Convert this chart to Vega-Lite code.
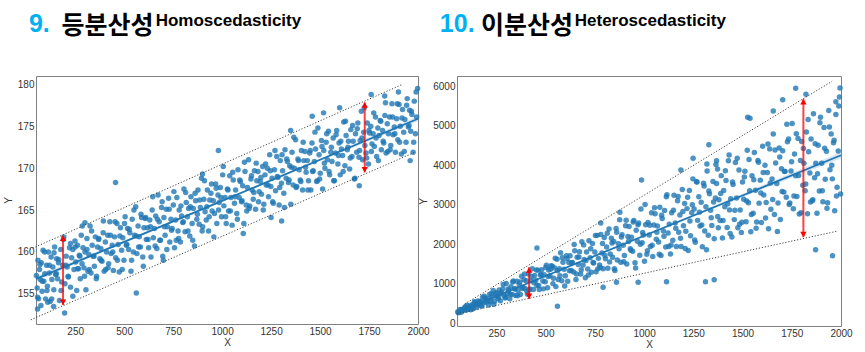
{
"$schema": "https://vega.github.io/schema/vega-lite/v6.json",
"background": "white",
"autosize": {"type": "pad"},
"padding": {"left": 2, "top": 11, "right": 5, "bottom": 5},
"spacing": 39,
"bounds": "flush",
"datasets": {
"homo_pts": [
{"x":52,"y":157.2},{"x":56,"y":155.7},{"x":60,"y":159.0},{"x":63,"y":154.4},{"x":68,"y":157.9},{"x":72,"y":156.7},{"x":77,"y":158.7},{"x":81,"y":155.3},{"x":86,"y":160.2},{"x":90,"y":156.5},{"x":95,"y":157.4},{"x":99,"y":154.4},{"x":104,"y":158.4},{"x":108,"y":155.9},{"x":113,"y":160.0},{"x":118,"y":157.5},{"x":122,"y":154.1},{"x":127,"y":159.4},{"x":131,"y":156.7},{"x":136,"y":158.2},{"x":141,"y":155.5},{"x":145,"y":160.6},{"x":150,"y":157.3},{"x":155,"y":159.2},{"x":160,"y":156.8},{"x":165,"y":158.7},{"x":170,"y":154.2},{"x":176,"y":160.3},{"x":181,"y":156.4},{"x":187,"y":158.4},{"x":192,"y":161.8},{"x":198,"y":156.2},{"x":204,"y":159.5},{"x":209,"y":158.2},{"x":215,"y":157.0},{"x":221,"y":160.5},{"x":226,"y":155.8},{"x":232,"y":159.3},{"x":238,"y":160.3},{"x":244,"y":157.9},
{"x":249,"y":161.3},{"x":253,"y":158.8},{"x":258,"y":155.4},{"x":262,"y":160.8},{"x":267,"y":158.0},{"x":271,"y":159.6},{"x":276,"y":156.8},{"x":281,"y":162.0},{"x":285,"y":158.6},{"x":290,"y":160.5},{"x":295,"y":158.1},{"x":300,"y":160.0},{"x":305,"y":155.5},{"x":310,"y":161.6},{"x":315,"y":157.7},{"x":320,"y":159.7},{"x":326,"y":163.1},{"x":331,"y":157.5},{"x":337,"y":160.8},{"x":342,"y":159.5},{"x":348,"y":158.3},{"x":353,"y":161.8},{"x":359,"y":157.1},{"x":364,"y":160.6},{"x":370,"y":161.6},{"x":376,"y":159.2},{"x":381,"y":160.4},{"x":387,"y":158.9},{"x":393,"y":162.3},{"x":398,"y":157.7},{"x":404,"y":161.2},{"x":410,"y":160.0},{"x":416,"y":162.0},{"x":421,"y":158.6},{"x":427,"y":163.6},{"x":433,"y":159.8},{"x":439,"y":160.8},{"x":445,"y":157.8},{"x":451,"y":161.8},{"x":457,"y":159.3},
{"x":463,"y":163.4},{"x":469,"y":160.9},{"x":475,"y":157.6},{"x":481,"y":162.9},{"x":487,"y":160.2},{"x":493,"y":161.7},{"x":499,"y":159.0},{"x":505,"y":164.2},{"x":511,"y":160.8},{"x":517,"y":162.8},{"x":523,"y":160.3},{"x":529,"y":162.3},{"x":535,"y":157.7},{"x":541,"y":163.9},{"x":547,"y":160.0},{"x":553,"y":162.0},{"x":559,"y":165.4},{"x":565,"y":159.8},{"x":571,"y":163.1},{"x":577,"y":161.8},{"x":583,"y":160.6},{"x":589,"y":164.1},{"x":595,"y":159.4},{"x":601,"y":162.9},{"x":607,"y":164.0},{"x":613,"y":161.5},{"x":619,"y":162.9},{"x":625,"y":160.5},{"x":631,"y":163.8},{"x":637,"y":159.4},{"x":643,"y":165.0},{"x":649,"y":161.7},{"x":655,"y":162.8},{"x":661,"y":164.3},{"x":667,"y":160.4},{"x":673,"y":166.8},{"x":679,"y":163.6},{"x":685,"y":161.4},{"x":691,"y":165.3},{"x":697,"y":159.5},
{"x":703,"y":164.1},{"x":709,"y":162.0},{"x":715,"y":165.1},{"x":721,"y":163.0},{"x":727,"y":166.4},{"x":733,"y":161.2},{"x":739,"y":163.9},{"x":745,"y":162.8},{"x":751,"y":165.6},{"x":757,"y":160.5},{"x":763,"y":163.8},{"x":769,"y":166.5},{"x":775,"y":162.5},{"x":781,"y":165.0},{"x":787,"y":161.2},{"x":793,"y":164.3},{"x":799,"y":163.5},{"x":805,"y":167.5},{"x":811,"y":162.4},{"x":817,"y":165.9},{"x":823,"y":164.2},{"x":829,"y":165.2},{"x":835,"y":161.9},{"x":841,"y":166.6},{"x":847,"y":163.4},{"x":853,"y":165.2},{"x":859,"y":160.7},{"x":865,"y":166.1},{"x":871,"y":163.9},{"x":877,"y":167.4},{"x":883,"y":163.3},{"x":889,"y":165.3},{"x":895,"y":168.8},{"x":901,"y":163.0},{"x":907,"y":166.3},{"x":913,"y":164.8},{"x":919,"y":163.8},{"x":925,"y":167.4},{"x":931,"y":162.5},{"x":937,"y":166.2},
{"x":943,"y":167.0},{"x":949,"y":164.9},{"x":955,"y":166.1},{"x":961,"y":164.6},{"x":967,"y":168.1},{"x":973,"y":163.4},{"x":979,"y":166.8},{"x":985,"y":165.9},{"x":991,"y":167.7},{"x":997,"y":164.2},{"x":1003,"y":169.2},{"x":1009,"y":165.5},{"x":1015,"y":166.5},{"x":1021,"y":163.4},{"x":1027,"y":167.5},{"x":1033,"y":164.9},{"x":1039,"y":169.1},{"x":1045,"y":166.5},{"x":1051,"y":163.2},{"x":1057,"y":168.6},{"x":1063,"y":165.8},{"x":1069,"y":167.4},{"x":1075,"y":164.6},{"x":1081,"y":169.8},{"x":1087,"y":166.5},{"x":1093,"y":168.4},{"x":1099,"y":166.0},{"x":1105,"y":167.9},{"x":1111,"y":163.4},{"x":1117,"y":169.6},{"x":1123,"y":165.6},{"x":1129,"y":167.7},{"x":1135,"y":171.0},{"x":1141,"y":165.5},{"x":1147,"y":168.7},{"x":1153,"y":167.4},{"x":1159,"y":166.3},{"x":1165,"y":169.7},{"x":1171,"y":165.1},{"x":1177,"y":168.5},
{"x":1183,"y":169.6},{"x":1189,"y":167.2},{"x":1195,"y":168.4},{"x":1201,"y":166.9},{"x":1207,"y":170.2},{"x":1213,"y":165.7},{"x":1219,"y":169.2},{"x":1225,"y":168.0},{"x":1231,"y":170.0},{"x":1237,"y":166.6},{"x":1243,"y":171.6},{"x":1249,"y":167.8},{"x":1255,"y":168.8},{"x":1261,"y":165.8},{"x":1267,"y":169.8},{"x":1273,"y":167.3},{"x":1279,"y":171.4},{"x":1285,"y":168.9},{"x":1291,"y":165.6},{"x":1297,"y":170.9},{"x":1303,"y":168.2},{"x":1309,"y":169.7},{"x":1315,"y":167.0},{"x":1321,"y":172.2},{"x":1327,"y":168.8},{"x":1333,"y":170.8},{"x":1339,"y":168.3},{"x":1345,"y":170.3},{"x":1351,"y":165.7},{"x":1357,"y":171.9},{"x":1363,"y":168.0},{"x":1369,"y":170.0},{"x":1375,"y":173.4},{"x":1381,"y":167.8},{"x":1387,"y":171.1},{"x":1393,"y":169.8},{"x":1399,"y":168.6},{"x":1405,"y":172.1},{"x":1411,"y":167.4},{"x":1417,"y":170.9},
{"x":1423,"y":172.0},{"x":1429,"y":169.5},{"x":1435,"y":170.9},{"x":1441,"y":168.5},{"x":1447,"y":171.8},{"x":1453,"y":167.4},{"x":1459,"y":173.0},{"x":1465,"y":169.7},{"x":1471,"y":170.8},{"x":1477,"y":172.3},{"x":1483,"y":168.4},{"x":1489,"y":174.8},{"x":1495,"y":171.6},{"x":1501,"y":169.4},{"x":1507,"y":173.3},{"x":1513,"y":167.5},{"x":1519,"y":172.1},{"x":1525,"y":170.0},{"x":1531,"y":173.1},{"x":1537,"y":171.0},{"x":1543,"y":174.4},{"x":1549,"y":169.2},{"x":1555,"y":171.9},{"x":1561,"y":170.8},{"x":1567,"y":173.6},{"x":1573,"y":168.5},{"x":1579,"y":171.8},{"x":1585,"y":174.5},{"x":1591,"y":170.5},{"x":1597,"y":173.0},{"x":1603,"y":169.2},{"x":1609,"y":172.3},{"x":1615,"y":171.5},{"x":1621,"y":175.5},{"x":1627,"y":170.3},{"x":1633,"y":173.9},{"x":1639,"y":172.2},{"x":1645,"y":173.2},{"x":1651,"y":169.9},{"x":1657,"y":174.6},
{"x":1663,"y":171.4},{"x":1669,"y":173.2},{"x":1675,"y":168.7},{"x":1681,"y":174.1},{"x":1687,"y":171.9},{"x":1693,"y":175.4},{"x":1699,"y":171.3},{"x":1705,"y":173.3},{"x":1711,"y":176.8},{"x":1717,"y":171.0},{"x":1723,"y":174.3},{"x":1729,"y":172.7},{"x":1735,"y":171.8},{"x":1741,"y":175.4},{"x":1747,"y":170.5},{"x":1753,"y":174.2},{"x":1759,"y":175.0},{"x":1765,"y":172.9},{"x":1771,"y":174.1},{"x":1777,"y":172.6},{"x":1783,"y":176.1},{"x":1789,"y":171.4},{"x":1795,"y":174.8},{"x":1801,"y":173.9},{"x":1807,"y":175.7},{"x":1813,"y":172.2},{"x":1819,"y":174.5},{"x":1825,"y":173.0},{"x":1831,"y":176.3},{"x":1837,"y":171.8},{"x":1843,"y":175.3},{"x":1849,"y":174.1},{"x":1855,"y":176.1},{"x":1861,"y":172.7},{"x":1867,"y":177.7},{"x":1873,"y":174.0},{"x":1879,"y":174.9},{"x":1885,"y":171.9},{"x":1891,"y":175.9},{"x":1897,"y":173.4},
{"x":1903,"y":177.6},{"x":1909,"y":175.0},{"x":1915,"y":171.7},{"x":1921,"y":177.0},{"x":1927,"y":174.3},{"x":1933,"y":175.8},{"x":1939,"y":173.1},{"x":1945,"y":178.3},{"x":1951,"y":174.9},{"x":1957,"y":176.9},{"x":1963,"y":174.4},{"x":1969,"y":176.4},{"x":1975,"y":171.9},{"x":1981,"y":178.0},{"x":1987,"y":174.1},{"x":1993,"y":176.1},{"x":1998,"y":179.5},
{"x":456,"y":168.3},{"x":562,"y":155.1},{"x":196,"y":152.7},{"x":981,"y":172.1},{"x":1108,"y":162.2},{"x":1518,"y":176.6},{"x":1761,"y":178.8},{"x":58,"y":153.2},{"x":75,"y":153.6},{"x":110,"y":154.0},{"x":140,"y":153.5},{"x":1460,"y":176.2},{"x":1600,"y":177.2},{"x":1900,"y":179.1},{"x":1960,"y":170.9},{"x":1700,"y":167.9},{"x":700,"y":159.0},{"x":300,"y":163.5},{"x":1250,"y":164.1},{"x":1830,"y":178.6},{"x":1350,"y":174.5},{"x":900,"y":169.3},{"x":1304,"y":163.7},
{"x":58,"y":154.6},{"x":70,"y":158.5},{"x":82,"y":156.5},{"x":94,"y":160.0},{"x":106,"y":155.4},{"x":118,"y":158.4},{"x":130,"y":154.4},{"x":142,"y":159.9},{"x":154,"y":157.4},{"x":166,"y":159.1},{"x":178,"y":155.4},{"x":190,"y":161.5},{"x":202,"y":158.4},{"x":214,"y":157.1},{"x":226,"y":161.0},{"x":238,"y":154.7},{"x":250,"y":160.6},{"x":262,"y":158.0},{"x":274,"y":159.5},{"x":286,"y":163.1},{"x":298,"y":157.1},{"x":310,"y":160.3},{"x":322,"y":157.9},{"x":334,"y":162.5},{"x":346,"y":159.5},{"x":358,"y":156.8},{"x":370,"y":161.5},{"x":382,"y":159.0},{"x":394,"y":163.7},{"x":406,"y":157.9},
{"x":418,"y":158.1},{"x":430,"y":162.0},{"x":442,"y":160.0},{"x":454,"y":163.6},{"x":466,"y":159.0},{"x":478,"y":161.9},{"x":490,"y":157.9},{"x":502,"y":163.4},{"x":514,"y":160.9},{"x":526,"y":162.7},{"x":538,"y":159.0},{"x":550,"y":165.0},{"x":562,"y":161.9},{"x":574,"y":160.6},{"x":586,"y":164.5},{"x":598,"y":158.3},{"x":610,"y":164.1},{"x":622,"y":161.5},{"x":634,"y":163.0},{"x":646,"y":166.6},{"x":658,"y":160.7},{"x":670,"y":163.9},{"x":682,"y":161.4},{"x":694,"y":166.0},{"x":706,"y":163.0},{"x":718,"y":160.3},{"x":730,"y":165.1},{"x":742,"y":162.6},{"x":754,"y":167.2},{"x":766,"y":161.4},
{"x":778,"y":161.6},{"x":790,"y":165.5},{"x":802,"y":163.6},{"x":814,"y":167.1},{"x":826,"y":162.5},{"x":838,"y":165.4},{"x":850,"y":161.4},{"x":862,"y":167.0},{"x":874,"y":164.5},{"x":886,"y":166.2},{"x":898,"y":162.5},{"x":910,"y":168.5},{"x":922,"y":165.4},{"x":934,"y":164.2},{"x":946,"y":168.1},{"x":958,"y":161.8},{"x":970,"y":167.6},{"x":982,"y":165.0},{"x":994,"y":166.5},{"x":1006,"y":170.2},{"x":1018,"y":164.2},{"x":1030,"y":167.4},{"x":1042,"y":164.9},{"x":1054,"y":169.5},{"x":1066,"y":166.6},{"x":1078,"y":163.9},{"x":1090,"y":168.6},{"x":1102,"y":166.1},{"x":1114,"y":170.7},{"x":1126,"y":164.9},
{"x":1138,"y":165.2},{"x":1150,"y":169.1},{"x":1162,"y":167.1},{"x":1174,"y":170.6},{"x":1186,"y":166.0},{"x":1198,"y":168.9},{"x":1210,"y":165.0},{"x":1222,"y":170.5},{"x":1234,"y":168.0},{"x":1246,"y":169.7},{"x":1258,"y":166.0},{"x":1270,"y":172.1},{"x":1282,"y":169.0},{"x":1294,"y":167.7},{"x":1306,"y":171.6},{"x":1318,"y":165.3},{"x":1330,"y":171.1},{"x":1342,"y":168.6},{"x":1354,"y":170.1},{"x":1366,"y":173.7},{"x":1378,"y":167.7},{"x":1390,"y":170.9},{"x":1402,"y":168.4},{"x":1414,"y":173.1},{"x":1426,"y":170.1},{"x":1438,"y":167.4},{"x":1450,"y":172.1},{"x":1462,"y":169.6},{"x":1474,"y":174.3},{"x":1486,"y":168.5},
{"x":1498,"y":168.7},{"x":1510,"y":172.6},{"x":1522,"y":170.6},{"x":1534,"y":174.1},{"x":1546,"y":169.6},{"x":1558,"y":172.5},{"x":1570,"y":168.5},{"x":1582,"y":174.0},{"x":1594,"y":171.5},{"x":1606,"y":173.2},{"x":1618,"y":169.6},{"x":1630,"y":175.6},{"x":1642,"y":172.5},{"x":1654,"y":171.2},{"x":1666,"y":175.1},{"x":1678,"y":168.8},{"x":1690,"y":174.7},{"x":1702,"y":172.1},{"x":1714,"y":173.6},{"x":1726,"y":177.2},{"x":1738,"y":171.2},{"x":1750,"y":174.5},{"x":1762,"y":172.0},{"x":1774,"y":176.6},{"x":1786,"y":173.6},{"x":1798,"y":170.9},{"x":1810,"y":175.6},{"x":1822,"y":173.2},{"x":1834,"y":177.8},{"x":1846,"y":172.0},
{"x":1858,"y":172.2},{"x":1870,"y":176.1},{"x":1882,"y":174.1},{"x":1894,"y":177.7},{"x":1906,"y":173.1},{"x":1918,"y":176.0},{"x":1930,"y":172.0},{"x":1942,"y":177.5},{"x":1954,"y":175.1},{"x":1966,"y":176.8},{"x":1978,"y":173.1},{"x":1990,"y":179.1}
],
"hetero_pts": [
{"x":54,"y":287},{"x":60,"y":276},{"x":66,"y":340},{"x":72,"y":273},{"x":78,"y":348},{"x":84,"y":336},{"x":90,"y":390},{"x":96,"y":323},{"x":102,"y":453},{"x":108,"y":374},{"x":114,"y":407},{"x":120,"y":338},{"x":126,"y":461},{"x":132,"y":393},{"x":138,"y":538},{"x":144,"y":465},{"x":150,"y":399},{"x":156,"y":561},{"x":162,"y":464},{"x":168,"y":536},{"x":174,"y":430},{"x":180,"y":655},{"x":186,"y":526},{"x":192,"y":626},{"x":198,"y":523},{"x":204,"y":628},{"x":210,"y":457},{"x":216,"y":730},{"x":222,"y":537},{"x":228,"y":652},{"x":234,"y":824},{"x":240,"y":543},{"x":246,"y":744},{"x":252,"y":678},{"x":258,"y":612},{"x":264,"y":839},{"x":270,"y":563},{"x":276,"y":778},{"x":282,"y":865},{"x":288,"y":701},
{"x":294,"y":636},{"x":300,"y":999},{"x":306,"y":746},{"x":312,"y":817},{"x":318,"y":613},{"x":324,"y":916},{"x":330,"y":725},{"x":336,"y":1065},{"x":342,"y":869},{"x":348,"y":700},{"x":354,"y":1056},{"x":360,"y":823},{"x":366,"y":965},{"x":372,"y":725},{"x":378,"y":1188},{"x":384,"y":904},{"x":390,"y":1095},{"x":396,"y":876},{"x":402,"y":1071},{"x":408,"y":726},{"x":414,"y":1243},{"x":420,"y":864},{"x":426,"y":1070},{"x":432,"y":1376},{"x":438,"y":850},{"x":444,"y":1206},{"x":450,"y":1076},{"x":456,"y":951},{"x":462,"y":1340},{"x":468,"y":850},{"x":474,"y":1214},{"x":480,"y":1352},{"x":486,"y":1065},{"x":492,"y":1224},{"x":498,"y":1043},{"x":504,"y":1461},{"x":510,"y":895},{"x":516,"y":1342},{"x":522,"y":1199},{"x":528,"y":1454},
{"x":534,"y":1437},{"x":540,"y":1132},{"x":546,"y":1394},{"x":552,"y":922},{"x":558,"y":1616},{"x":564,"y":1102},{"x":570,"y":1374},{"x":576,"y":1778},{"x":582,"y":1073},{"x":588,"y":1541},{"x":594,"y":1365},{"x":600,"y":1197},{"x":606,"y":1704},{"x":612,"y":1058},{"x":618,"y":1531},{"x":624,"y":1706},{"x":630,"y":1330},{"x":636,"y":1532},{"x":642,"y":1295},{"x":648,"y":1830},{"x":654,"y":1100},{"x":660,"y":1669},{"x":666,"y":1483},{"x":672,"y":1804},{"x":678,"y":1242},{"x":684,"y":2059},{"x":690,"y":1468},{"x":696,"y":1612},{"x":702,"y":1147},{"x":708,"y":1799},{"x":714,"y":1371},{"x":720,"y":2086},{"x":726,"y":1652},{"x":732,"y":1284},{"x":738,"y":2016},{"x":744,"y":1518},{"x":750,"y":1799},{"x":756,"y":1297},{"x":762,"y":2221},{"x":768,"y":1638},
{"x":774,"y":1471},{"x":780,"y":2246},{"x":786,"y":1774},{"x":792,"y":1375},{"x":798,"y":2166},{"x":804,"y":1626},{"x":810,"y":1929},{"x":816,"y":1387},{"x":822,"y":2382},{"x":828,"y":1752},{"x":834,"y":2148},{"x":840,"y":1666},{"x":846,"y":2066},{"x":852,"y":1330},{"x":858,"y":2393},{"x":864,"y":1597},{"x":870,"y":2007},{"x":876,"y":2615},{"x":882,"y":1538},{"x":888,"y":2240},{"x":894,"y":1968},{"x":900,"y":1710},{"x":906,"y":2463},{"x":912,"y":1493},{"x":918,"y":2191},{"x":924,"y":2444},{"x":930,"y":1882},{"x":936,"y":2174},{"x":942,"y":1820},{"x":948,"y":2598},{"x":954,"y":1526},{"x":960,"y":2350},{"x":966,"y":2074},{"x":972,"y":2533},{"x":978,"y":1716},{"x":984,"y":2887},{"x":990,"y":2032},{"x":996,"y":2233},{"x":1002,"y":1564},{"x":1008,"y":2489},
{"x":1014,"y":1743},{"x":1020,"y":2548},{"x":1026,"y":2233},{"x":1032,"y":1936},{"x":1038,"y":2797},{"x":1044,"y":1685},{"x":1050,"y":2481},{"x":1056,"y":2769},{"x":1062,"y":2125},{"x":1068,"y":2457},{"x":1074,"y":2051},{"x":1080,"y":2936},{"x":1086,"y":1713},{"x":1092,"y":2650},{"x":1098,"y":2334},{"x":1104,"y":2854},{"x":1110,"y":1925},{"x":1116,"y":3251},{"x":1122,"y":2280},{"x":1128,"y":2506},{"x":1134,"y":1747},{"x":1140,"y":2793},{"x":1146,"y":2096},{"x":1152,"y":3235},{"x":1158,"y":2533},{"x":1164,"y":1940},{"x":1170,"y":3096},{"x":1176,"y":2300},{"x":1182,"y":2736},{"x":1188,"y":1941},{"x":1194,"y":3383},{"x":1200,"y":2463},{"x":1206,"y":3029},{"x":1212,"y":2328},{"x":1218,"y":2899},{"x":1224,"y":1836},{"x":1230,"y":3357},{"x":1236,"y":2210},{"x":1242,"y":2792},{"x":1248,"y":3653},
{"x":1254,"y":2892},{"x":1260,"y":2048},{"x":1266,"y":3577},{"x":1272,"y":2601},{"x":1278,"y":3200},{"x":1284,"y":2457},{"x":1290,"y":3061},{"x":1296,"y":1934},{"x":1302,"y":3543},{"x":1308,"y":2329},{"x":1314,"y":2944},{"x":1320,"y":3854},{"x":1326,"y":2226},{"x":1332,"y":3275},{"x":1338,"y":2860},{"x":1344,"y":2469},{"x":1350,"y":3587},{"x":1356,"y":2137},{"x":1362,"y":3167},{"x":1368,"y":3536},{"x":1374,"y":2699},{"x":1380,"y":3124},{"x":1386,"y":2597},{"x":1392,"y":3735},{"x":1398,"y":2156},{"x":1404,"y":3358},{"x":1410,"y":2949},{"x":1416,"y":3612},{"x":1422,"y":2418},{"x":1428,"y":4112},{"x":1434,"y":2867},{"x":1440,"y":3152},{"x":1446,"y":2181},{"x":1452,"y":3511},{"x":1458,"y":2620},{"x":1464,"y":4065},{"x":1470,"y":3170},{"x":1476,"y":2415},{"x":1482,"y":3876},{"x":1488,"y":2864},
{"x":1494,"y":2292},{"x":1500,"y":3576},{"x":1506,"y":3138},{"x":1512,"y":3845},{"x":1518,"y":2569},{"x":1524,"y":4377},{"x":1530,"y":3047},{"x":1536,"y":3351},{"x":1542,"y":2314},{"x":1548,"y":3731},{"x":1554,"y":2782},{"x":1560,"y":4321},{"x":1566,"y":3366},{"x":1572,"y":2560},{"x":1578,"y":4116},{"x":1584,"y":3038},{"x":1590,"y":3621},{"x":1596,"y":2549},{"x":1602,"y":4480},{"x":1608,"y":3242},{"x":1614,"y":3996},{"x":1620,"y":3055},{"x":1626,"y":3813},{"x":1632,"y":2391},{"x":1638,"y":4413},{"x":1644,"y":2884},{"x":1650,"y":3653},{"x":1656,"y":4791},{"x":1662,"y":2747},{"x":1668,"y":4057},{"x":1674,"y":3536},{"x":1680,"y":3044},{"x":1686,"y":4437},{"x":1692,"y":2624},{"x":1698,"y":3907},{"x":1704,"y":4363},{"x":1710,"y":3317},{"x":1716,"y":3843},{"x":1722,"y":3185},{"x":1728,"y":4595},
{"x":1734,"y":4662},{"x":1740,"y":3042},{"x":1746,"y":3855},{"x":1752,"y":5059},{"x":1758,"y":2896},{"x":1764,"y":4281},{"x":1770,"y":3729},{"x":1776,"y":3208},{"x":1782,"y":4679},{"x":1788,"y":2764},{"x":1794,"y":4118},{"x":1800,"y":4599},{"x":1806,"y":3494},{"x":1812,"y":4049},{"x":1818,"y":3353},{"x":1824,"y":4840},{"x":1830,"y":2770},{"x":1836,"y":4339},{"x":1842,"y":3800},{"x":1848,"y":4662},{"x":1854,"y":3100},{"x":1860,"y":5305},{"x":1866,"y":3679},{"x":1872,"y":4046},{"x":1878,"y":2781},{"x":1884,"y":4504},{"x":1890,"y":3346},{"x":1896,"y":5214},{"x":1902,"y":4051},{"x":1908,"y":3071},{"x":1914,"y":4956},{"x":1920,"y":3646},{"x":1926,"y":4350},{"x":1932,"y":3050},{"x":1938,"y":5384},{"x":1944,"y":3884},{"x":1950,"y":4793},{"x":1956,"y":3653},{"x":1962,"y":4566},{"x":1968,"y":2847},{"x":1974,"y":5284},{"x":1980,"y":3438},{"x":1986,"y":4361},{"x":1992,"y":5729},{"x":1998,"y":3268},
{"x":456,"y":1901},{"x":560,"y":423},{"x":987,"y":3625},{"x":1329,"y":4520},{"x":1526,"y":5214},{"x":1538,"y":5190},{"x":1770,"y":5949},{"x":1704,"y":5660},{"x":1822,"y":5797},{"x":1995,"y":5957},{"x":1974,"y":5610},{"x":1957,"y":1706},{"x":1871,"y":1858},{"x":1356,"y":1098},{"x":1312,"y":1047},{"x":1114,"y":1047},{"x":970,"y":1030},{"x":1656,"y":5374},{"x":1249,"y":4175},{"x":1432,"y":4259},{"x":1368,"y":4114},{"x":877,"y":2806},{"x":780,"y":2535},{"x":792,"y":905},{"x":860,"y":1032},{"x":1187,"y":3878},{"x":1319,"y":4030},{"x":1373,"y":3904},
{"x":57,"y":262},{"x":69,"y":332},{"x":81,"y":327},{"x":93,"y":412},{"x":105,"y":346},{"x":117,"y":431},{"x":129,"y":354},{"x":141,"y":519},{"x":153,"y":471},{"x":165,"y":546},{"x":177,"y":444},{"x":189,"y":678},{"x":201,"y":585},{"x":213,"y":552},{"x":225,"y":740},{"x":237,"y":474},{"x":249,"y":766},{"x":261,"y":656},{"x":273,"y":755},{"x":285,"y":975},{"x":297,"y":655},{"x":309,"y":863},{"x":321,"y":726},{"x":333,"y":1040},{"x":345,"y":861},{"x":357,"y":692},{"x":369,"y":1038},{"x":381,"y":872},{"x":393,"y":1240},{"x":405,"y":807},
{"x":417,"y":834},{"x":429,"y":1175},{"x":441,"y":1018},{"x":453,"y":1344},{"x":465,"y":948},{"x":477,"y":1230},{"x":489,"y":865},{"x":501,"y":1408},{"x":513,"y":1176},{"x":525,"y":1363},{"x":537,"y":998},{"x":549,"y":1642},{"x":561,"y":1327},{"x":573,"y":1197},{"x":585,"y":1651},{"x":597,"y":935},{"x":609,"y":1627},{"x":621,"y":1326},{"x":633,"y":1526},{"x":645,"y":1990},{"x":657,"y":1242},{"x":669,"y":1670},{"x":681,"y":1349},{"x":693,"y":1980},{"x":705,"y":1581},{"x":717,"y":1218},{"x":729,"y":1884},{"x":741,"y":1534},{"x":753,"y":2219},{"x":765,"y":1372},
{"x":777,"y":1406},{"x":789,"y":2017},{"x":801,"y":1709},{"x":813,"y":2277},{"x":825,"y":1549},{"x":837,"y":2029},{"x":849,"y":1377},{"x":861,"y":2298},{"x":873,"y":1882},{"x":885,"y":2180},{"x":897,"y":1552},{"x":909,"y":2607},{"x":921,"y":2068},{"x":933,"y":1841},{"x":945,"y":2562},{"x":957,"y":1396},{"x":969,"y":2487},{"x":981,"y":1996},{"x":993,"y":2296},{"x":1005,"y":3005},{"x":1017,"y":1829},{"x":1029,"y":2476},{"x":1041,"y":1972},{"x":1053,"y":2919},{"x":1065,"y":2301},{"x":1077,"y":1743},{"x":1089,"y":2730},{"x":1101,"y":2197},{"x":1113,"y":3198},{"x":1125,"y":1937},
{"x":1137,"y":1979},{"x":1149,"y":2860},{"x":1161,"y":2400},{"x":1173,"y":3209},{"x":1185,"y":2150},{"x":1197,"y":2828},{"x":1209,"y":1888},{"x":1221,"y":3187},{"x":1233,"y":2588},{"x":1245,"y":2997},{"x":1257,"y":2107},{"x":1269,"y":3572},{"x":1281,"y":2810},{"x":1293,"y":2485},{"x":1305,"y":3473},{"x":1317,"y":1857},{"x":1329,"y":3347},{"x":1341,"y":2665},{"x":1353,"y":3066},{"x":1365,"y":4020},{"x":1377,"y":2416},{"x":1389,"y":3282},{"x":1401,"y":2595},{"x":1413,"y":3859},{"x":1425,"y":3021},{"x":1437,"y":2269},{"x":1449,"y":3576},{"x":1461,"y":2859},{"x":1473,"y":4178},{"x":1485,"y":2502},
{"x":1497,"y":2551},{"x":1509,"y":3702},{"x":1521,"y":3091},{"x":1533,"y":4141},{"x":1545,"y":2751},{"x":1557,"y":3628},{"x":1569,"y":2399},{"x":1581,"y":4076},{"x":1593,"y":3293},{"x":1605,"y":3814},{"x":1617,"y":2661},{"x":1629,"y":4537},{"x":1641,"y":3551},{"x":1653,"y":3130},{"x":1665,"y":4383},{"x":1677,"y":2318},{"x":1689,"y":4208},{"x":1701,"y":3335},{"x":1713,"y":3837},{"x":1725,"y":5036},{"x":1737,"y":3002},{"x":1749,"y":4089},{"x":1761,"y":3218},{"x":1773,"y":4799},{"x":1785,"y":3741},{"x":1797,"y":2795},{"x":1809,"y":4422},{"x":1821,"y":3522},{"x":1833,"y":5157},{"x":1845,"y":3068},
{"x":1857,"y":3124},{"x":1869,"y":4544},{"x":1881,"y":3783},{"x":1893,"y":5074},{"x":1905,"y":3352},{"x":1917,"y":4427},{"x":1929,"y":2910},{"x":1941,"y":4965},{"x":1953,"y":3999},{"x":1965,"y":4632},{"x":1977,"y":3216},{"x":1989,"y":5502}
],
"homo_fit": [{"x":50,"y":156.79,"lo":156.49,"hi":157.09},{"x":500,"y":161.2,"lo":161.05,"hi":161.35},{"x":1000,"y":166.1,"lo":166.0,"hi":166.2},{"x":1500,"y":171.0,"lo":170.85,"hi":171.15},{"x":2000,"y":175.9,"lo":175.6,"hi":176.2}],
"hetero_fit": [{"x":50,"y":273,"lo":253,"hi":293},{"x":500,"y":1191,"lo":1176,"hi":1206},{"x":1000,"y":2211,"lo":2186,"hi":2236},{"x":1500,"y":3231,"lo":3186,"hi":3276},{"x":2000,"y":4251,"lo":4171,"hi":4331}],
"homo_bounds": [{"b":"upper","x":19,"y":160.3},{"b":"upper","x":1920,"y":180.0},{"b":"lower","x":23,"y":151.9},{"b":"lower","x":1984,"y":171.9}],
"hetero_bounds": [{"b":"upper","x":89,"y":482},{"b":"upper","x":1955,"y":6127},{"b":"lower","x":50,"y":228},{"b":"lower","x":1978,"y":2324}],
"homo_arrows": [{"x":188,"y":153.67,"y2":161.94},{"x":1728,"y":169.5,"y2":177.86}],
"hetero_arrows": [{"x":416,"y":609,"y2":1412},{"x":1809,"y":2173,"y2":5677}],
"homo_heads": [{"x":188,"y":161.62,"dir":"up"},{"x":188,"y":153.99,"dir":"down"},{"x":1728,"y":177.54,"dir":"up"},{"x":1728,"y":169.82,"dir":"down"}],
"hetero_heads": [{"x":416,"y":1344,"dir":"up"},{"x":416,"y":677,"dir":"down"},{"x":1809,"y":5609,"dir":"up"},{"x":1809,"y":2241,"dir":"down"}]
},
"hconcat": [
{
"width": 382, "height": 248,
"layer": [
{"data": {"name": "homo_pts"}, "mark": {"type": "circle", "size": 30, "color": "#1f77b4", "opacity": 0.8},
 "encoding": {
 "x": {"field": "x", "type": "quantitative", "title": "X", "scale": {"domain": [50, 2000], "nice": false, "zero": false}, "axis": {"values": [250, 500, 750, 1000, 1250, 1500, 1750, 2000], "format": "d"}},
 "y": {"field": "y", "type": "quantitative", "title": "Y", "scale": {"domain": [151.4, 181], "nice": false, "zero": false}, "axis": {"values": [155, 160, 165, 170, 175, 180], "format": "d"}}}},
{"data": {"name": "homo_fit"}, "mark": {"type": "area", "color": "#1f77b4", "opacity": 0.18},
 "encoding": {"x": {"field": "x", "type": "quantitative", "title": "X", "scale": {"domain": [50, 2000], "nice": false, "zero": false}}, "y": {"field": "lo", "type": "quantitative", "title": "Y", "scale": {"domain": [151.4, 181], "nice": false, "zero": false}}, "y2": {"field": "hi"}}},
{"data": {"name": "homo_fit"}, "mark": {"type": "line", "color": "#1f77b4", "strokeWidth": 1.8},
 "encoding": {"x": {"field": "x", "type": "quantitative", "title": "X", "scale": {"domain": [50, 2000], "nice": false, "zero": false}}, "y": {"field": "y", "type": "quantitative", "title": "Y", "scale": {"domain": [151.4, 181], "nice": false, "zero": false}}}},
{"data": {"name": "homo_bounds"}, "mark": {"type": "line", "color": "#444444", "strokeWidth": 1, "strokeDash": [1.2, 1.8], "clip": false},
 "encoding": {"x": {"field": "x", "type": "quantitative", "title": "X", "scale": {"domain": [50, 2000], "nice": false, "zero": false}}, "y": {"field": "y", "type": "quantitative", "title": "Y", "scale": {"domain": [151.4, 181], "nice": false, "zero": false}}, "detail": {"field": "b"}}},
{"data": {"name": "homo_arrows"}, "mark": {"type": "rule", "color": "#ff0000", "opacity": 0.75, "strokeWidth": 2},
 "encoding": {"x": {"field": "x", "type": "quantitative", "title": "X", "scale": {"domain": [50, 2000], "nice": false, "zero": false}}, "y": {"field": "y", "type": "quantitative", "title": "Y", "scale": {"domain": [151.4, 181], "nice": false, "zero": false}}, "y2": {"field": "y2"}}},
{"data": {"name": "homo_heads"}, "mark": {"type": "point", "filled": true, "color": "#ff0000", "opacity": 1, "size": 40},
 "encoding": {"x": {"field": "x", "type": "quantitative", "title": "X", "scale": {"domain": [50, 2000], "nice": false, "zero": false}}, "y": {"field": "y", "type": "quantitative", "title": "Y", "scale": {"domain": [151.4, 181], "nice": false, "zero": false}}, "shape": {"field": "dir", "scale": {"domain": ["up", "down"], "range": ["triangle-up", "triangle-down"]}, "legend": null}}},
{"data": {"values": [{"t": "9."}]}, "mark": {"type": "text", "clip": false, "align": "left", "baseline": "alphabetic", "font": "Liberation Sans", "fontWeight": "bold", "fontSize": 25, "color": "#00b0f0"},
 "encoding": {"x": {"datum": 14, "type": "quantitative", "title": "X", "scale": {"domain": [50, 2000], "nice": false, "zero": false}}, "y": {"datum": 186.2, "type": "quantitative", "title": "Y", "scale": {"domain": [151.4, 181], "nice": false, "zero": false}}, "text": {"field": "t"}}},
{"data": {"values": [{"t": "등분산성"}]}, "mark": {"type": "text", "clip": false, "align": "left", "baseline": "alphabetic", "font": "Noto Sans CJK KR", "fontWeight": "bold", "fontSize": 25, "color": "#000000"},
 "encoding": {"x": {"datum": 180, "type": "quantitative", "title": "X", "scale": {"domain": [50, 2000], "nice": false, "zero": false}}, "y": {"datum": 186.0, "type": "quantitative", "title": "Y", "scale": {"domain": [151.4, 181], "nice": false, "zero": false}}, "text": {"field": "t"}}},
{"data": {"values": [{"t": "Homoscedasticity"}]}, "mark": {"type": "text", "clip": false, "align": "left", "baseline": "alphabetic", "font": "Liberation Sans", "fontWeight": "bold", "fontSize": 17, "color": "#000000"},
 "encoding": {"x": {"datum": 661, "type": "quantitative", "title": "X", "scale": {"domain": [50, 2000], "nice": false, "zero": false}}, "y": {"datum": 186.95, "type": "quantitative", "title": "Y", "scale": {"domain": [151.4, 181], "nice": false, "zero": false}}, "text": {"field": "t"}}}
]
},
{
"width": 384, "height": 250,
"layer": [
{"data": {"name": "hetero_pts"}, "mark": {"type": "circle", "size": 30, "color": "#1f77b4", "opacity": 0.8},
 "encoding": {
 "x": {"field": "x", "type": "quantitative", "title": "X", "scale": {"domain": [50, 2000], "nice": false, "zero": false}, "axis": {"values": [250, 500, 750, 1000, 1250, 1500, 1750, 2000], "format": "d"}},
 "y": {"field": "y", "type": "quantitative", "title": "Y", "scale": {"domain": [-76, 6260], "nice": false, "zero": false}, "axis": {"values": [0, 1000, 2000, 3000, 4000, 5000, 6000], "format": "d"}}}},
{"data": {"name": "hetero_fit"}, "mark": {"type": "area", "color": "#1f77b4", "opacity": 0.18},
 "encoding": {"x": {"field": "x", "type": "quantitative", "title": "X", "scale": {"domain": [50, 2000], "nice": false, "zero": false}}, "y": {"field": "lo", "type": "quantitative", "title": "Y", "scale": {"domain": [-76, 6260], "nice": false, "zero": false}}, "y2": {"field": "hi"}}},
{"data": {"name": "hetero_fit"}, "mark": {"type": "line", "color": "#1f77b4", "strokeWidth": 1.8},
 "encoding": {"x": {"field": "x", "type": "quantitative", "title": "X", "scale": {"domain": [50, 2000], "nice": false, "zero": false}}, "y": {"field": "y", "type": "quantitative", "title": "Y", "scale": {"domain": [-76, 6260], "nice": false, "zero": false}}}},
{"data": {"name": "hetero_bounds"}, "mark": {"type": "line", "color": "#444444", "strokeWidth": 1, "strokeDash": [1.2, 1.8], "clip": false},
 "encoding": {"x": {"field": "x", "type": "quantitative", "title": "X", "scale": {"domain": [50, 2000], "nice": false, "zero": false}}, "y": {"field": "y", "type": "quantitative", "title": "Y", "scale": {"domain": [-76, 6260], "nice": false, "zero": false}}, "detail": {"field": "b"}}},
{"data": {"name": "hetero_arrows"}, "mark": {"type": "rule", "color": "#ff0000", "opacity": 0.75, "strokeWidth": 2},
 "encoding": {"x": {"field": "x", "type": "quantitative", "title": "X", "scale": {"domain": [50, 2000], "nice": false, "zero": false}}, "y": {"field": "y", "type": "quantitative", "title": "Y", "scale": {"domain": [-76, 6260], "nice": false, "zero": false}}, "y2": {"field": "y2"}}},
{"data": {"name": "hetero_heads"}, "mark": {"type": "point", "filled": true, "color": "#ff0000", "opacity": 1, "size": 40},
 "encoding": {"x": {"field": "x", "type": "quantitative", "title": "X", "scale": {"domain": [50, 2000], "nice": false, "zero": false}}, "y": {"field": "y", "type": "quantitative", "title": "Y", "scale": {"domain": [-76, 6260], "nice": false, "zero": false}}, "shape": {"field": "dir", "scale": {"domain": ["up", "down"], "range": ["triangle-up", "triangle-down"]}, "legend": null}}},
{"data": {"values": [{"t": "10."}]}, "mark": {"type": "text", "clip": false, "align": "left", "baseline": "alphabetic", "font": "Liberation Sans", "fontWeight": "bold", "fontSize": 25, "color": "#00b0f0"},
 "encoding": {"x": {"datum": -37, "type": "quantitative", "title": "X", "scale": {"domain": [50, 2000], "nice": false, "zero": false}}, "y": {"datum": 7367, "type": "quantitative", "title": "Y", "scale": {"domain": [-76, 6260], "nice": false, "zero": false}}, "text": {"field": "t"}}},
{"data": {"values": [{"t": "이분산성"}]}, "mark": {"type": "text", "clip": false, "align": "left", "baseline": "alphabetic", "font": "Noto Sans CJK KR", "fontWeight": "bold", "fontSize": 25, "color": "#000000"},
 "encoding": {"x": {"datum": 172, "type": "quantitative", "title": "X", "scale": {"domain": [50, 2000], "nice": false, "zero": false}}, "y": {"datum": 7317, "type": "quantitative", "title": "Y", "scale": {"domain": [-76, 6260], "nice": false, "zero": false}}, "text": {"field": "t"}}},
{"data": {"values": [{"t": "Heteroscedasticity"}]}, "mark": {"type": "text", "clip": false, "align": "left", "baseline": "alphabetic", "font": "Liberation Sans", "fontWeight": "bold", "fontSize": 17, "color": "#000000"},
 "encoding": {"x": {"datum": 648, "type": "quantitative", "title": "X", "scale": {"domain": [50, 2000], "nice": false, "zero": false}}, "y": {"datum": 7520, "type": "quantitative", "title": "Y", "scale": {"domain": [-76, 6260], "nice": false, "zero": false}}, "text": {"field": "t"}}}
]
}
],
"config": {
"view": {"stroke": "#808080", "strokeWidth": 1},
"axis": {"grid": false, "ticks": false, "tickSize": 0, "domain": false, "labelFont": "Liberation Sans", "labelFontSize": 10, "labelColor": "#333333", "titleFont": "Liberation Sans", "titleFontSize": 10, "titleFontWeight": "normal", "titleColor": "#333333", "labelFlush": false, "labelOverlap": false},
"axisX": {"labelPadding": 2, "titlePadding": 1},
"axisY": {"labelPadding": 2, "titlePadding": 4}
}
}
